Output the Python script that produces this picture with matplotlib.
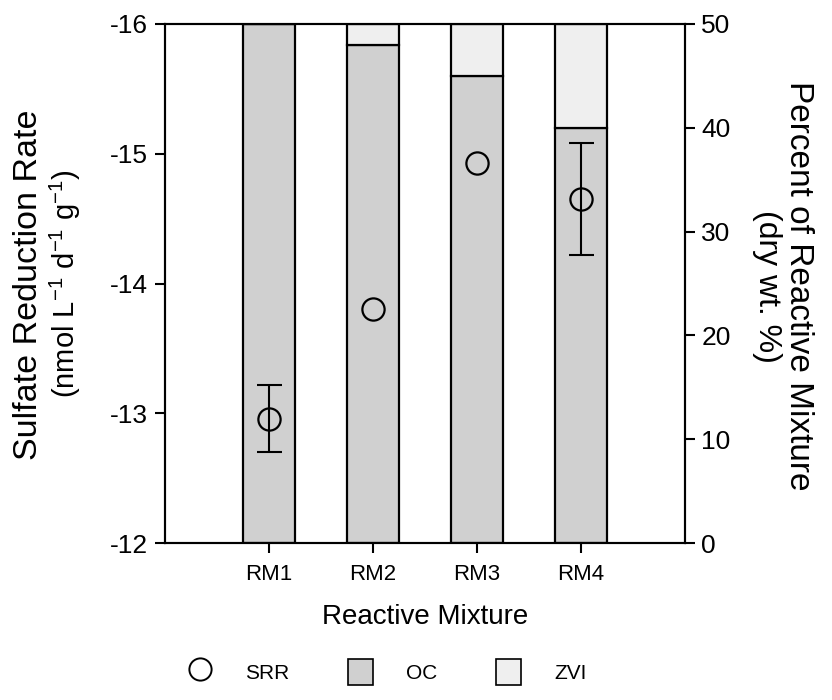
import matplotlib
matplotlib.use("Agg")
import matplotlib.pyplot as plt
from matplotlib.patches import Patch
from matplotlib.lines import Line2D

plt.rcParams['font.family'] = ['Liberation Sans', 'DejaVu Sans']
plt.rcParams['mathtext.fontset'] = 'custom'
plt.rcParams['mathtext.rm'] = 'Liberation Sans'
plt.rcParams['axes.unicode_minus'] = False

mixtures = ['RM1', 'RM2', 'RM3', 'RM4']
oc_pct = [50, 48, 45, 40]
zvi_pct = [0, 2, 5, 10]
srr = [-12.96, -13.80, -14.93, -14.65]
srr_err = [0.26, 0.0, 0.0, 0.43]

pos = [1, 2, 3, 4]

W, H = 832, 700
fig = plt.figure(figsize=(W / 100, H / 100), dpi=100)
ax = fig.add_axes([0.198, 0.224, 0.625, 0.742])
ax2 = ax.twinx()

# bars on the percent axis (right side)
ax.bar(pos, oc_pct, width=0.5, color='#d0d0d0', edgecolor='black', linewidth=1.6)
ax.bar(pos, zvi_pct, width=0.5, bottom=oc_pct, color='#efefef', edgecolor='black', linewidth=1.6)
ax.set_ylim(0, 50)
ax.set_xlim(0, 5)
ax.yaxis.tick_right()
ax.set_yticks([0, 10, 20, 30, 40, 50])
ax.set_xticks(pos)
ax.set_xticklabels(mixtures)
ax.set_xlabel('Reactive Mixture', fontsize=20, labelpad=14)

# SRR on the left axis
ep = [p for p, e in zip(pos, srr_err) if e > 0]
ev = [v for v, e in zip(srr, srr_err) if e > 0]
ee = [e for e in srr_err if e > 0]
ax2.errorbar(ep, ev, yerr=ee, fmt='none', ecolor='black', elinewidth=1.5, capsize=9, capthick=1.5)
ax2.plot(pos, srr, 'o', mfc='none', mec='black', ms=16, mew=1.6)
ax2.set_ylim(-12, -16)
ax2.set_yticks([-12, -13, -14, -15, -16])
ax2.yaxis.tick_left()

for a in (ax, ax2):
    a.tick_params(direction='out', length=7, width=1.5, labelsize=19, pad=5)
    for s in a.spines.values():
        s.set_linewidth(1.5)
ax.tick_params(axis='x', pad=8, labelsize=16)

# axis titles (two lines each)
fig.text(29 / W, 1 - 285 / H, 'Sulfate Reduction Rate', rotation=90, fontsize=24.5,
         ha='center', va='center')
fig.text(65 / W, 1 - 284 / H, '(nmol L$^{-1}$ d$^{-1}$ g$^{-1}$)', rotation=90, fontsize=21,
         ha='center', va='center')
fig.text(798 / W, 1 - 286 / H, 'Percent of Reactive Mixture', rotation=270, fontsize=24,
         ha='center', va='center')
fig.text(767 / W, 1 - 286 / H, '(dry wt. %)', rotation=270, fontsize=23,
         ha='center', va='center')

handles = [
    Line2D([], [], marker='o', ls='none', mfc='none', mec='black', ms=16, mew=1.4),
    Patch(facecolor='#d0d0d0', edgecolor='black', linewidth=1.2),
    Patch(facecolor='#efefef', edgecolor='black', linewidth=1.2),
]
fig.legend(handles, ['SRR', 'OC', 'ZVI'], loc='center', bbox_to_anchor=(0.465, 0.04), ncol=3,
           frameon=False, fontsize=15, handlelength=1.2, handleheight=1.5, handletextpad=1.6,
           columnspacing=2.8)

fig.savefig('out.png', dpi=100)
